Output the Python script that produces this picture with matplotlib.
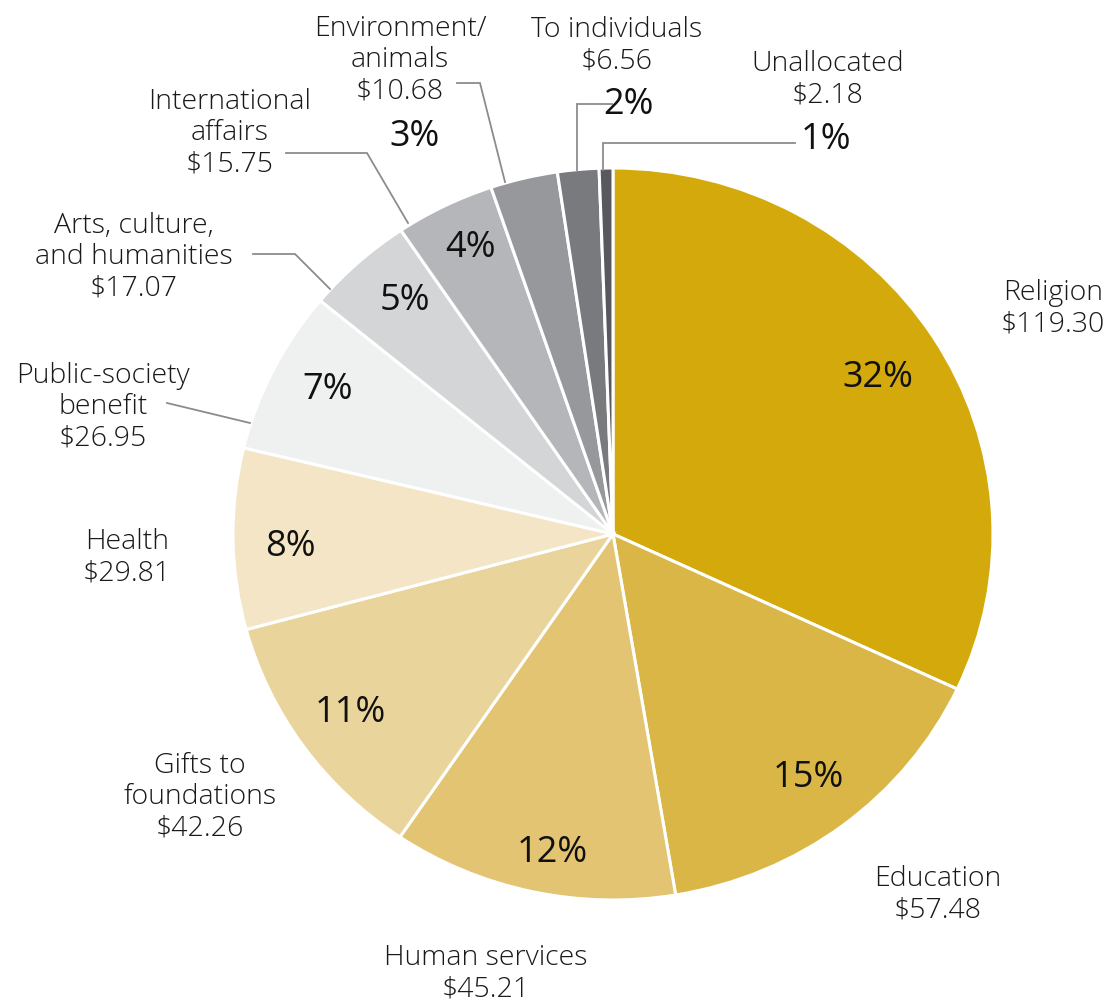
#!/usr/bin/env python3
"""Giving by recipient category, pie chart with leader-line labels."""

import matplotlib

matplotlib.use("Agg")

import matplotlib.pyplot as plt

plt.rcParams["font.family"] = ["Open Sans", "DejaVu Sans"]

# data
categories = [
    "Religion", "Education", "Human services", "Gifts to\nfoundations",
    "Health", "Public-society\nbenefit", "Arts, culture,\nand humanities",
    "International\naffairs", "Environment/\nanimals", "To individuals",
    "Unallocated",
]
amounts = [119.30, 57.48, 45.21, 42.26, 29.81, 26.95, 17.07, 15.75, 10.68, 6.56, 2.18]
colors = [
    "#D3A90B", "#D9B646", "#E2C473", "#E9D59C", "#F3E5C6", "#EFF0F0",
    "#D4D5D7", "#B5B6B9", "#97989B", "#797A7D", "#58595C",
]

# layout (pixel positions in the 1107x1007 canvas)
W, H = 1107, 1007
CX, CY, RX, RY = 613, 534, 380, 366

name_pos = [
    (1053, 309), (938, 895), (486, 974), (200, 797), (127, 558), (103, 407),
    (134, 257), (230, 133), (400, 60), (617, 46), (828, 80),
]
pct_pos = [
    (878, 378), (808, 778), (552, 853), (350, 713), (290, 547), (328, 390),
    (405, 301), (470, 248), (415, 137), (628, 105), (826, 140),
]
leaders = {
    5: [(167, 403), (250, 423)],
    6: [(253, 254), (295, 254), (330, 289)],
    7: [(286, 153), (367, 153), (408, 223)],
    8: [(457, 83), (480, 83), (505, 182)],
    9: [(612, 104), (577, 104), (577, 170)],
    10: [(795, 143), (603, 143), (603, 170)],
}


def px(x, y):
    return (x - CX) / RX, (CY - y) / RY


fig = plt.figure(figsize=(W / 100, H / 100), dpi=100)
ax = fig.add_axes([0, 0, 1, 1])
ax.pie(
    amounts,
    colors=colors,
    startangle=90,
    counterclock=False,
    wedgeprops=dict(edgecolor="white", linewidth=2.2),
)
ax.set_aspect("auto")
ax.set_xlim(px(0, 0)[0], px(W, 0)[0])
ax.set_ylim(px(0, H)[1], px(0, 0)[1])
ax.axis("off")

total = sum(amounts)
for i, (name, amt) in enumerate(zip(categories, amounts)):
    x, y = px(*name_pos[i])
    ax.text(x, y, f"{name}\n${amt:.2f}", ha="center", va="center",
            fontsize=20.5, fontweight="light", color="#1a1a1a", linespacing=1.15)
    x, y = px(*pct_pos[i])
    ax.text(x, y, f"{round(amt / total * 100):.0f}%", ha="center", va="center",
            fontsize=26, fontweight="medium", color="#111111")

for pts in leaders.values():
    xs, ys = zip(*[px(*p) for p in pts])
    ax.plot(xs, ys, color="#8C8C8C", linewidth=1.3, solid_joinstyle="miter")

fig.savefig("out.png", dpi=100)
